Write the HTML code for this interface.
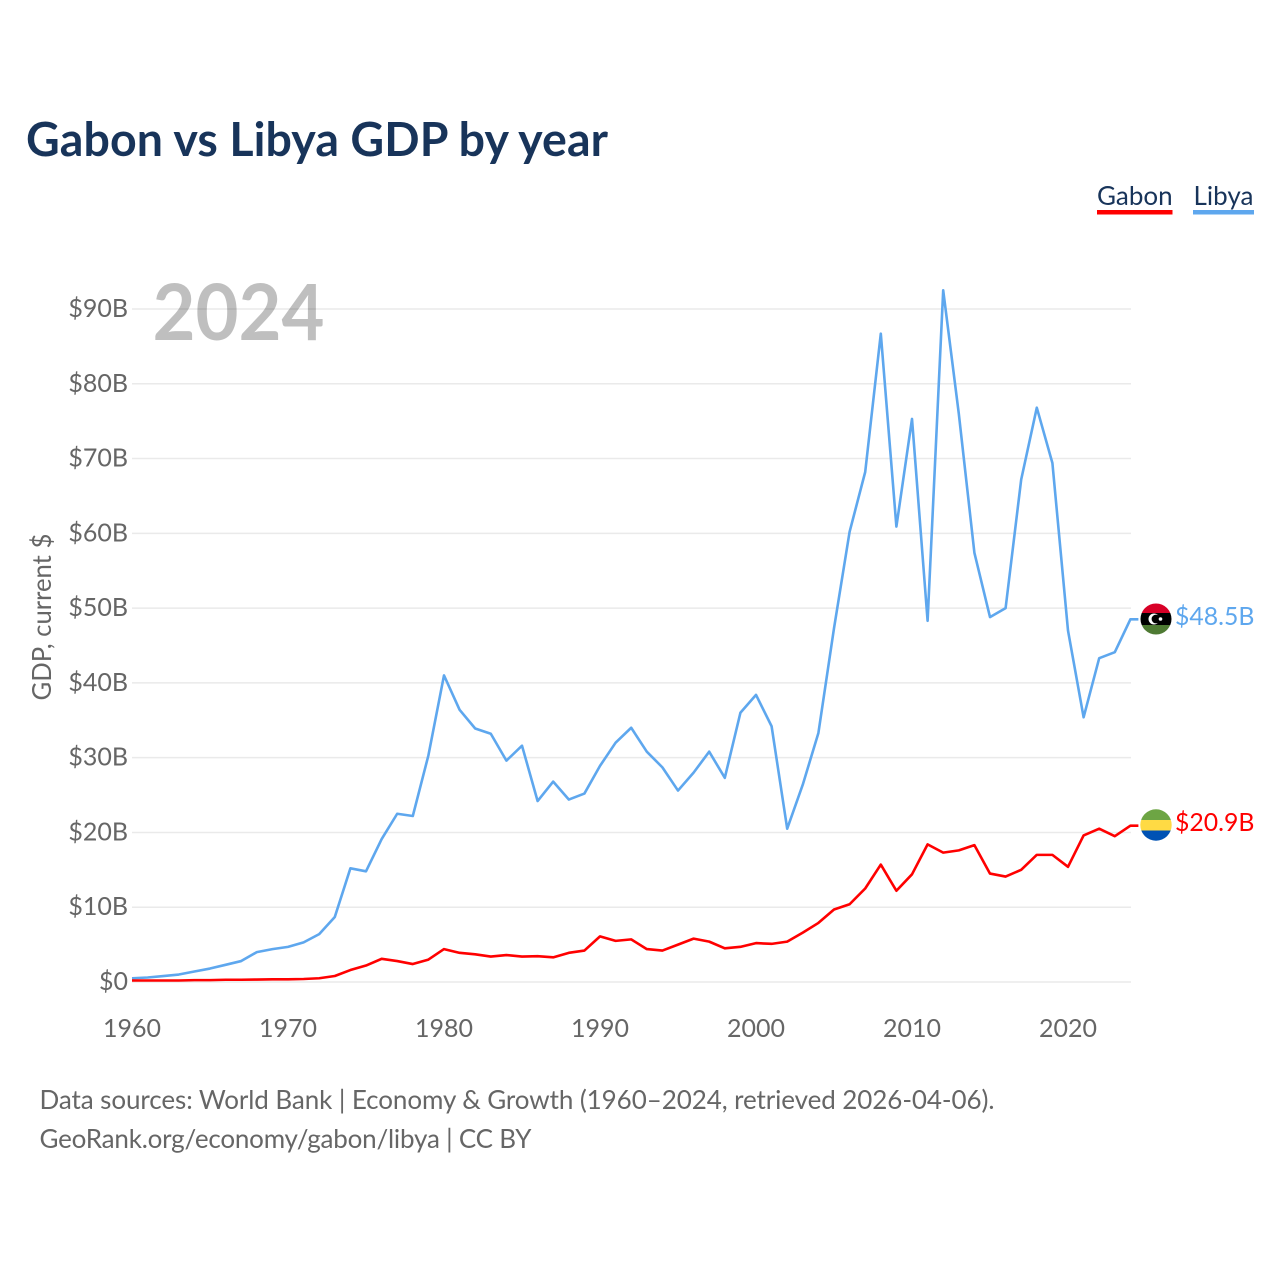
<!DOCTYPE html>
<html lang="en">
<head>
<meta charset="utf-8">
<title>Gabon vs Libya GDP by year</title>
<style>
html,body{margin:0;padding:0;background:#fff}
svg{display:block}
text{font-family:"Lato","Carlito","Liberation Sans",sans-serif}
</style>
</head>
<body>
<svg id="chart" xmlns="http://www.w3.org/2000/svg" width="1280" height="1280" viewBox="0 0 1280 1280">
  <rect width="1280" height="1280" fill="#fff"/>
  <text x="26" y="156" font-size="46.5" font-weight="700" fill="#18345a" textLength="582" lengthAdjust="spacing">Gabon vs Libya GDP by year</text>
  <g>
    <g>
      <text x="1097" y="205" font-size="26" fill="#18345a">Gabon</text>
      <rect x="1097" y="210" width="75.5" height="4.5" fill="#ff0000"/>
    </g>
    <g>
      <text x="1193.5" y="205" font-size="26" fill="#18345a">Libya</text>
      <rect x="1193" y="210" width="61" height="4.5" fill="#5ea7ee"/>
    </g>
  </g>
  <g id="grid"></g>
  <g id="yticks"></g>
  <g id="xticks"></g>
  <text x="152.5" y="340" font-size="78" font-weight="700" fill="#000" fill-opacity="0.25" textLength="172" lengthAdjust="spacingAndGlyphs">2024</text>
  <text transform="translate(51,700.5) rotate(-90)" font-size="25.7" fill="#666">GDP, current $</text>
  <g id="series"></g>
  <defs>
    <clipPath id="clip-libya"><circle cx="1156" cy="619" r="15.5"/></clipPath>
    <clipPath id="clip-gabon"><circle cx="1156" cy="825" r="15.7"/></clipPath>
  </defs>
  <g clip-path="url(#clip-libya)">
    <rect x="1140" y="603" width="32" height="10" fill="#d80027"/>
    <rect x="1140" y="613" width="32" height="12" fill="#000"/>
    <rect x="1140" y="625" width="32" height="10" fill="#4e7a33"/>
    <circle cx="1154" cy="619" r="5.5" fill="#fff"/>
    <circle cx="1156" cy="619" r="4.4" fill="#000"/>
    <circle cx="1160.5" cy="619" r="1.8" fill="#fff"/>
  </g>
  <g clip-path="url(#clip-gabon)">
    <rect x="1140" y="809" width="32" height="11" fill="#6da544"/>
    <rect x="1140" y="820" width="32" height="10.5" fill="#ffda44"/>
    <rect x="1140" y="830.5" width="32" height="11" fill="#0052b4"/>
  </g>
  <text x="1175" y="625" font-size="24.8" fill="#5ea7ee">$48.5B</text>
  <text x="1175" y="831" font-size="24.8" fill="#ff0000">$20.9B</text>
  <text x="39.5" y="1109" font-size="26" fill="#666" textLength="955" lengthAdjust="spacing">Data sources: World Bank | Economy &amp; Growth (1960–2024, retrieved 2026-04-06).</text>
  <text x="39.5" y="1148" font-size="26" fill="#666" textLength="492" lengthAdjust="spacing">GeoRank.org/economy/gabon/libya | CC BY</text>
</svg>
<script>
const startYear = 1960;
const yTickValues = [0, 10, 20, 30, 40, 50, 60, 70, 80, 90];
const yTickLabels = ["$0", "$10B", "$20B", "$30B", "$40B", "$50B", "$60B", "$70B", "$80B", "$90B"];
const xTickYears = [1960, 1970, 1980, 1990, 2000, 2010, 2020];
const libyaValues = [0.5, 0.6, 0.8, 1.0, 1.4, 1.8, 2.3, 2.8, 4.0, 4.4, 4.7, 5.3, 6.4, 8.7, 15.2, 14.8, 19.1, 22.5, 22.2, 30.3, 41.0, 36.4, 33.9, 33.2, 29.6, 31.6, 24.2, 26.8, 24.4, 25.2, 28.9, 32.0, 34.0, 30.8, 28.7, 25.6, 28.0, 30.8, 27.3, 36.0, 38.4, 34.2, 20.5, 26.4, 33.3, 47.3, 60.2, 68.2, 86.7, 60.9, 75.3, 48.3, 92.5, 76.0, 57.4, 48.8, 50.0, 67.2, 76.8, 69.4, 47.0, 35.4, 43.3, 44.1, 48.5];
const gabonValues = [0.2, 0.2, 0.2, 0.2, 0.25, 0.25, 0.3, 0.3, 0.33, 0.36, 0.36, 0.4, 0.5, 0.8, 1.6, 2.2, 3.1, 2.8, 2.4, 3.0, 4.4, 3.9, 3.7, 3.4, 3.6, 3.4, 3.45, 3.3, 3.9, 4.2, 6.1, 5.5, 5.7, 4.4, 4.2, 5.0, 5.8, 5.4, 4.5, 4.7, 5.2, 5.1, 5.4, 6.6, 7.9, 9.7, 10.4, 12.5, 15.7, 12.2, 14.4, 18.4, 17.3, 17.6, 18.3, 14.5, 14.1, 15.0, 17.0, 17.0, 15.4, 19.6, 20.5, 19.5, 20.9];

const NS = "http://www.w3.org/2000/svg";
const xScale = function (year) { return 132 + (year - 1960) * 15.6; };
const yScale = function (v) { return 982 - v * 7.478; };

const grid = document.getElementById("grid");
const yticks = document.getElementById("yticks");
const xticks = document.getElementById("xticks");
const series = document.getElementById("series");

yTickValues.forEach(function (v, i) {
  const line = document.createElementNS(NS, "line");
  
  
  line.setAttribute("x1", 132);
  line.setAttribute("x2", 1131);
  line.setAttribute("y1", yScale(v));
  line.setAttribute("y2", yScale(v));
  line.setAttribute("stroke", "#eaeaea");
  line.setAttribute("stroke-width", "1.5");
  grid.appendChild(line);

  const t = document.createElementNS(NS, "text");
  
  
  t.setAttribute("x", 128);
  t.setAttribute("y", yScale(v) + 8);
  t.setAttribute("text-anchor", "end");
  t.setAttribute("font-size", "25");
  t.setAttribute("fill", "#666");
  t.textContent = yTickLabels[i];
  yticks.appendChild(t);
});

xTickYears.forEach(function (y) {
  const t = document.createElementNS(NS, "text");
  
  
  t.setAttribute("x", xScale(y));
  t.setAttribute("y", 1037);
  t.setAttribute("text-anchor", "middle");
  t.setAttribute("font-size", "25");
  t.setAttribute("fill", "#666");
  t.textContent = String(y);
  xticks.appendChild(t);
});

function drawLine(values, color, name) {
  const pts = values.map(function (v, i) {
    return xScale(startYear + i).toFixed(2) + "," + yScale(v).toFixed(2);
  });
  const lastV = values[values.length - 1];
  pts.push((xScale(startYear + values.length - 1) + 8).toFixed(2) + "," + yScale(lastV).toFixed(2));
  const p = document.createElementNS(NS, "polyline");
  
  
  p.setAttribute("points", pts.join(" "));
  p.setAttribute("fill", "none");
  p.setAttribute("stroke", color);
  p.setAttribute("stroke-width", "2.6");
  p.setAttribute("stroke-linejoin", "round");
  series.appendChild(p);
}
drawLine(libyaValues, "#5ea7ee", "line-libya");
drawLine(gabonValues, "#ff0000", "line-gabon");
</script>
</body>
</html>
